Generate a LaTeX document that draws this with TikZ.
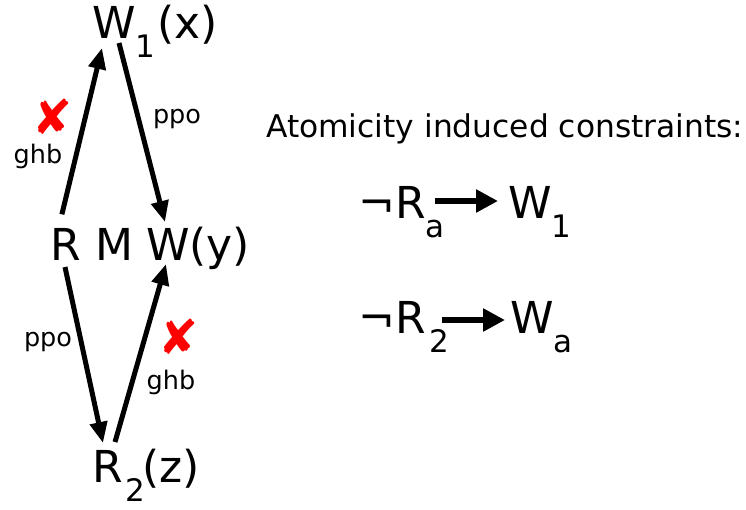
\documentclass[tikz,border=0pt]{standalone}
\usepackage{fontspec}
\setmainfont{DejaVu Sans}
\usetikzlibrary{arrows.meta,calc}
\newcommand\subs[1]{\raisebox{-0.45em}{\fontsize{31}{31}\selectfont #1}}

\begin{document}
\begin{tikzpicture}[
  x=1pt, y=-1pt,
  >={Triangle[length=21pt,width=17pt]},
  ev/.style={inner sep=0pt, anchor=base west, font=\fontsize{44}{48}\selectfont},
  lbl/.style={inner sep=0pt, font=\fontsize{25.5}{27}\selectfont},
  nope/.style={inner sep=0pt, text=red, font=\fontsize{48}{48}\selectfont},
  arr/.style={->, line width=5pt},
  big/.style={->, line width=6.5pt, >={Triangle[length=22pt,width=22pt]}},
]
\useasboundingbox (0,0) rectangle (746,509);
% events of the cycle
\node[ev] (w1) at (92,38)  {W\subs{1}\kern2pt(x)};
\node[ev] (r)  at (50,260) {R};
\node[ev] (m)  at (95,260) {M};
\node[ev] (wy) at (146,260){W(y)};
\node[ev] (r2) at (92,482) {R\kern3pt\subs{2}\kern-3pt(z)};

% edges
\draw[arr] ($(r.north)+(-3.6,-13.4)$) -- ($(w1.base west)+(10,10)$);
\draw[arr] ($(w1.base west)+(27,5)$) -- ($(wy.base west)+(19,-38)$);
\draw[arr] ($(r.base west)+(15,7)$) -- ($(r2.base west)+(11,-39)$);
\draw[arr] ($(r2.base west)+(23,-40)$) -- ($(wy.base west)+(20,4)$);

\node[lbl]  (ghb1) at (38,156) {ghb};
\node[nope] (x1)   at (53,117) {✘};
\node[lbl]  (ppo1) at (177,119){ppo};
\node[lbl]  (ppo2) at (48,342) {ppo};
\node[lbl]  (ghb2) at (171,382){ghb};
\node[nope] (x2)   at (179,337){✘};

% constraints
\node[ev, font=\fontsize{31.3}{34}\selectfont] (title) at (266,137) {Atomicity induced constraints:};
\node[ev] (nra) at (358,218) {¬R\subs{a}};
\node[ev] (w1c) at (508,218) {W\subs{1}};
\node[ev] (nr2) at (358,333) {¬R\kern4pt\subs{2}};
\node[ev] (wac) at (510,333) {W\subs{a}};
\draw[big] ($(nra.base west)+(77,-17)$) -- ($(w1c.base west)+(-10,-17)$);
\draw[big] ($(nr2.base west)+(84,-13)$) -- ($(wac.base west)+(-5,-13)$);
\end{tikzpicture}
\end{document}
